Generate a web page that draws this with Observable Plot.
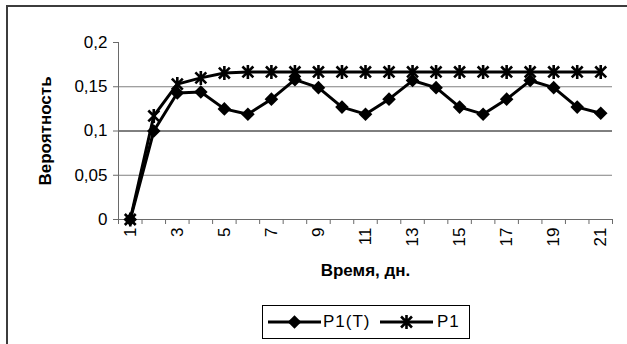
<!DOCTYPE html>
<html><head><meta charset="utf-8">
<script src="https://cdn.jsdelivr.net/npm/d3@7"></script>
<script src="https://cdn.jsdelivr.net/npm/@observablehq/plot@0.6"></script>
<style>
body{margin:0;background:#fff;font-family:"Liberation Sans",Arial,sans-serif;}
#wrap{position:relative;width:627px;height:344px;overflow:hidden;background:#fff;}
#frame{position:absolute;left:6px;top:5px;width:700px;height:400px;border-top:2px solid #3c3c3c;border-left:2px solid #3c3c3c;}
#chart{position:absolute;left:0;top:0;}
#legend{position:absolute;left:262px;top:305px;width:208px;height:34px;border:1px solid #000;box-sizing:border-box;background:#fff;}
#legend .sw{position:absolute;top:5px;}
#legend .lt{position:absolute;top:6px;font-size:17px;letter-spacing:1px;color:#000;line-height:20px;}
</style></head>
<body>
<div id="wrap"><div id="frame"></div><div id="chart"></div><div id="legend"></div></div>
<script>
const days = [1,2,3,4,5,6,7,8,9,10,11,12,13,14,15,16,17,18,19,20,21];
const p1t = [0,0.1,0.143,0.144,0.125,0.119,0.136,0.158,0.149,0.127,0.119,0.136,0.157,0.149,0.127,0.119,0.136,0.157,0.149,0.127,0.12];
const p1 = [0,0.117,0.153,0.16,0.1655,0.1667,0.1667,0.1667,0.1667,0.1667,0.1667,0.1667,0.1667,0.1667,0.1667,0.1667,0.1667,0.1667,0.1667,0.1667,0.1667];
const seriesNames = ["P1(T)", "P1"];
const xTickLabels = [1,3,5,7,9,11,13,15,17,19,21];
const yTicks = [0,0.05,0.1,0.15,0.2];
const yTickLabels = ["0","0,05","0,1","0,15","0,2"];
const xTitle = "Время, дн.";
const yTitle = "Вероятность";

const rows = days.map((d,i)=>({day:d, p1t:p1t[i], p1:p1[i]}));
const bounds = days.map(d=>d-0.5).concat([days[days.length-1]+0.5]);

const star = {draw(ctx, size){ const r=Math.sqrt(size/Math.PI); const a=r*0.78;
  ctx.moveTo(0,-r); ctx.lineTo(0,r); ctx.moveTo(-a,-a); ctx.lineTo(a,a); ctx.moveTo(-a,a); ctx.lineTo(a,-a);}};
const diamond = {draw(ctx, size){ const r=Math.sqrt(size/Math.PI);
  ctx.moveTo(0,-r); ctx.lineTo(r,0); ctx.lineTo(0,r); ctx.lineTo(-r,0); ctx.closePath();}};

const chart = Plot.plot({
  width:627, height:300,
  marginLeft:118, marginRight:15, marginTop:42, marginBottom:81,
  style:{fontFamily:"Liberation Sans, Arial, sans-serif", background:"transparent", overflow:"visible"},
  x:{type:"linear", domain:[bounds[0], bounds[bounds.length-1]], axis:null},
  y:{domain:[0,0.2], axis:null},
  marks:[
    Plot.ruleY([0.05,0.15], {stroke:"#808080", strokeWidth:1}),
    Plot.ruleY([0.1], {stroke:"#000", strokeWidth:1}),
    Plot.ruleX([bounds[0]], {y1:0, y2:0.2, stroke:"#6a6a6a"}),
    Plot.ruleY([0], {stroke:"#6a6a6a"}),
    Plot.axisY(yTicks, {anchor:"left", tickSize:5, tickPadding:6, stroke:"#6a6a6a", fill:"#000", fontSize:17, label:null,
      tickFormat:d=>yTickLabels[yTicks.indexOf(d)]}),
    Plot.axisX(bounds, {anchor:"bottom", tickSize:5, stroke:"#6a6a6a", tickFormat:()=>"", label:null}),
    Plot.text(xTickLabels, {x:d=>d, frameAnchor:"bottom", dy:8, rotate:-90, textAnchor:"end", lineAnchor:"middle", fontSize:17, fill:"#000", letterSpacing:"0.5px"}),
    Plot.text([xTitle], {frameAnchor:"bottom", dy:51, textAnchor:"middle", lineAnchor:"middle", fontSize:17, fontWeight:"bold", fill:"#000", letterSpacing:"1px"}),
    Plot.text([yTitle], {frameAnchor:"left", dx:-73, rotate:-90, textAnchor:"middle", lineAnchor:"middle", fontSize:17, fontWeight:"bold", fill:"#000", letterSpacing:"1px"}),
    Plot.line(rows, {x:"day", y:"p1", stroke:"#000", strokeWidth:3}),
    Plot.dot(rows, {x:"day", y:"p1", symbol:star, r:7, fill:"none", stroke:"#000", strokeWidth:2.6}),
    Plot.line(rows, {x:"day", y:"p1t", stroke:"#000", strokeWidth:3}),
    Plot.dot(rows, {x:"day", y:"p1t", symbol:diamond, r:6.8, fill:"#000", stroke:"none"})
  ]
});
document.getElementById("chart").appendChild(chart);

// legend
const leg = d3.select("#legend");
const items = [{name:seriesNames[0], sym:diamond, filled:true, sx:5, tx:60},{name:seriesNames[1], sym:star, filled:false, sx:117, tx:174}];
items.forEach(it=>{
  const s = leg.append("svg").attr("class","sw").attr("width",53).attr("height",22).style("left",it.sx+"px");
  s.append("line").attr("x1",0).attr("x2",53).attr("y1",11).attr("y2",11).attr("stroke","#000").attr("stroke-width",3);
  const p = d3.path(); it.sym.draw(p, (it.filled?6.8:7)**2*Math.PI);
  s.append("path").attr("transform","translate(26.5,11)").attr("d",p.toString())
    .attr("fill",it.filled?"#000":"none").attr("stroke",it.filled?"none":"#000").attr("stroke-width",2.6);
  leg.append("div").attr("class","lt").style("left",it.tx+"px").text(it.name);
});
</script>
</body></html>
